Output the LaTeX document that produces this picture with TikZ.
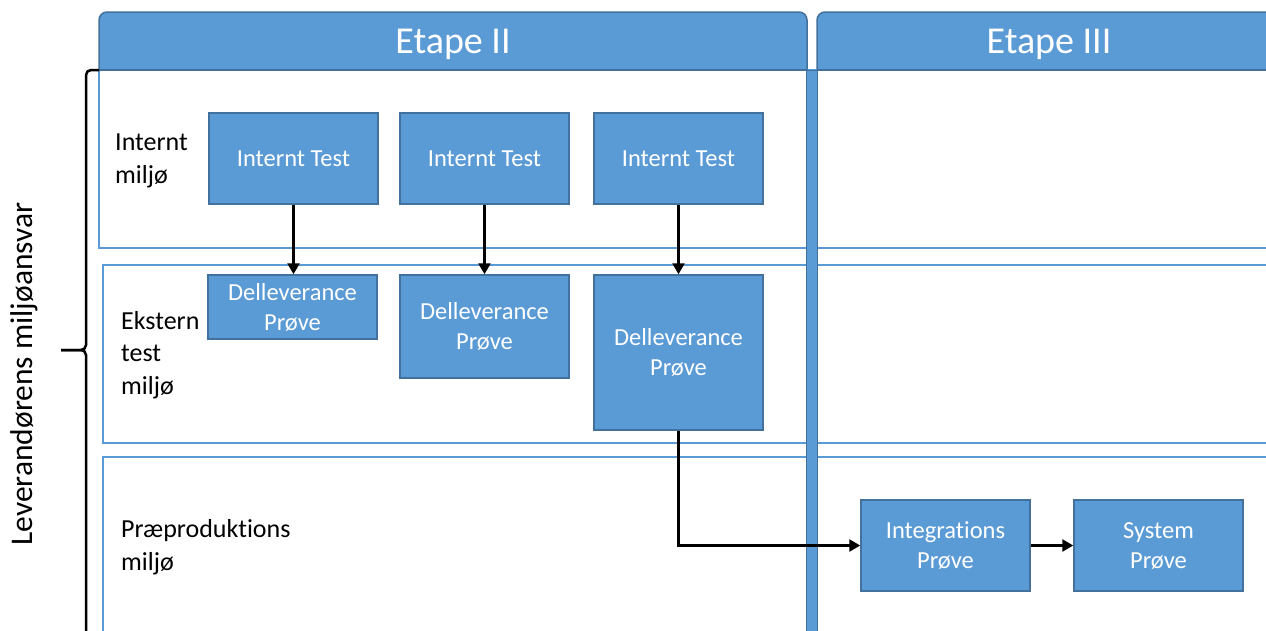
\documentclass[tikz,border=0pt]{standalone}
\usepackage{fontspec}
\setmainfont{Carlito}[Ligatures=NoCommon, Contextuals=NoAlternate]
\usetikzlibrary{arrows.meta}
\definecolor{fillblue}{HTML}{5B9BD5}
\definecolor{edgeblue}{HTML}{41719C}
\begin{document}
\begin{tikzpicture}[x=1pt,y=-1pt,
  proc/.style={draw=edgeblue, fill=fillblue, line width=1.5pt, text=white,
    minimum width=169pt, align=center, inner sep=0pt,
    font=\fontsize{24.5}{30}\selectfont},
  rowbox/.style={draw=fillblue, line width=2pt},
  lbl/.style={anchor=base west, inner sep=0pt, font=\fontsize{26}{33}\selectfont},
  hdrtext/.style={anchor=base, inner sep=0pt, text=white, font=\fontsize{38}{44}\selectfont},
  flow/.style={line width=2.5pt, -{Triangle[length=11pt,width=12pt]}},
  hdr/.style={draw=edgeblue, fill=fillblue, line width=1.5pt, rounded corners=8pt},
  bracestyle/.style={line width=2.5pt, rounded corners=5pt}]
\useasboundingbox (0,0) rectangle (1266,630);
\clip (0,0) rectangle (1266,630);
% rows
\draw[rowbox] (99,70) rectangle (1290,248);
\draw[rowbox] (103,265) rectangle (1290,443);
\draw[rowbox] (103,457) rectangle (1290,660);
% headers
\filldraw[hdr] (99,70) -- (99,12) -- (807,12) -- (807,70);
\draw[draw=edgeblue, line width=1.5pt] (99,70) -- (807,70);
\filldraw[hdr] (817,70) -- (817,12) -- (1295,12) -- (1295,70);
\draw[draw=edgeblue, line width=1.5pt] (817,70) -- (1295,70);
\node[hdrtext] (h2) at (453,53) {Etape II};
\node[hdrtext] (h3) at (1049,53) {Etape III};
% vertical separator
\filldraw[fill=fillblue, draw=edgeblue, line width=1pt] (806,70) rectangle (817,660);
% brace
\draw[bracestyle] (99,70) -- (86,70) -- (86,350) -- (61,350);
\draw[bracestyle] (61,350) -- (86,350) -- (86,660);
\node[rotate=90, anchor=base, inner sep=0pt, font=\fontsize{31.5}{36}\selectfont] (resp) at (32,374) {Leverandørens miljøansvar};
% row labels
\node[lbl] (l1a) at (115,150) {Internt};
\node[lbl] (l1b) at (115,183) {miljø};
\node[lbl] (l2a) at (121,329) {Ekstern};
\node[lbl] (l2b) at (121,361) {test};
\node[lbl] (l2c) at (121,394) {miljø};
\node[lbl] (l3a) at (121,537) {Præproduktions};
\node[lbl] (l3b) at (121,570) {miljø};
% boxes
\node[proc, minimum height=91pt] (it1) at (293.5,158.5) {Internt Test};
\node[proc, minimum height=91pt] (it2) at (484.5,158.5) {Internt Test};
\node[proc, minimum height=91pt] (it3) at (678.5,158.5) {Internt Test};
\node[proc, minimum height=64pt] (d1) at (292.5,307) {Delleverance\\Prøve};
\node[proc, minimum height=103pt] (d2) at (484.5,326.5) {Delleverance\\Prøve};
\node[proc, minimum height=155pt] (d3) at (678.5,352.5) {Delleverance\\Prøve};
\node[proc, minimum height=91pt] (ip) at (945.5,545.5) {Integrations\\Prøve};
\node[proc, minimum height=91pt] (sp) at (1158.5,545.5) {System\\Prøve};
% arrows
\draw[flow] (it1.south) -- (it1.south |- d1.north);
\draw[flow] (it2.south) -- (it2.south |- d2.north);
\draw[flow] (it3.south) -- (it3.south |- d3.north);
\draw[flow] (d3.south) |- (ip.west);
\draw[flow] (ip.east) -- (sp.west);
\end{tikzpicture}
\end{document}
